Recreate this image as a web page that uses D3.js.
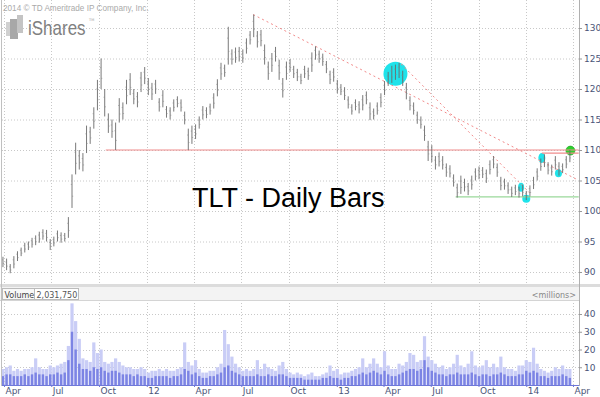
<!DOCTYPE html>
<html><head><meta charset="utf-8">
<script src="https://cdn.jsdelivr.net/npm/d3@7"></script>
<style>
html,body{margin:0;padding:0;background:#fff;}
svg{display:block;font-family:"DejaVu Sans",sans-serif;}
</style></head>
<body><svg id="c" width="600" height="397"></svg>
<script>
// ---- data (weekly, starting week of 2011-03-30) ----
const weekHi = [92.5,92.2,91.3,92.6,93.4,94.0,94.8,95.0,95.6,96.0,96.6,97.0,96.9,95.4,95.8,96.8,96.5,96.4,99.0,106.0,
111.2,110.0,109.5,114.0,113.8,117.0,121.5,125.0,120.0,116.0,115.0,114.5,118.5,117.8,121.5,122.6,120.0,119.5,122.8,123.6,
121.8,121.0,121.5,118.5,119.8,117.2,117.0,118.3,118.8,118.3,116.3,113.5,114.0,114.2,115.5,117.2,117.0,117.6,119.3,121.6,
124.3,124.0,130.2,126.5,126.8,126.9,126.5,128.3,129.5,132.2,129.5,129.7,127.3,124.5,125.9,126.9,124.8,121.8,124.5,124.9,
123.8,123.3,122.5,123.8,123.5,126.0,127.0,126.3,125.8,124.6,123.0,123.4,121.5,120.8,120.3,118.8,117.5,118.3,118.0,119.0,
119.6,117.8,116.8,117.8,119.3,121.3,122.8,123.8,124.0,124.3,123.0,121.0,118.8,117.8,116.3,115.5,114.0,111.5,110.8,109.0,
109.6,109.0,107.8,107.5,106.0,104.5,105.8,105.3,104.6,105.8,107.0,107.3,107.2,106.8,108.3,109.0,107.8,105.6,105.3,104.7,
104.0,104.3,104.0,104.3,103.3,104.2,105.6,107.0,108.6,109.3,108.0,107.6,109.0,108.0,107.8,109.0,110.0];
const weekLo = [90.8,90.3,89.8,90.6,91.8,92.6,93.2,93.6,94.0,94.4,94.8,95.3,95.0,93.6,94.2,95.0,94.8,95.0,95.6,100.5,
106.0,106.8,106.5,109.5,111.0,113.5,116.5,120.0,115.5,112.8,112.0,110.0,114.5,115.0,117.5,119.0,117.5,117.0,119.5,120.8,
119.0,118.2,119.2,116.3,117.0,115.3,115.0,116.3,117.0,116.3,114.2,110.0,111.0,111.8,113.5,115.0,115.2,115.8,116.8,118.8,
121.5,122.0,124.0,124.0,124.3,124.5,124.3,125.8,127.3,128.5,126.8,127.0,124.0,121.5,122.8,124.5,121.5,118.6,121.5,122.8,
121.8,121.3,120.8,121.8,121.5,122.8,124.8,124.3,123.8,122.6,120.8,121.2,119.3,119.0,118.2,116.8,115.8,116.5,116.0,116.5,
117.5,114.9,115.0,115.8,117.0,119.0,120.5,121.0,121.5,121.8,120.5,118.3,116.5,115.8,114.3,113.5,111.5,108.2,108.0,106.8,
107.3,106.8,105.6,105.5,104.0,102.2,102.8,103.2,102.6,103.5,105.0,105.2,105.4,104.6,106.0,107.0,105.6,103.4,103.5,102.8,
102.3,102.6,102.2,102.4,101.8,102.4,103.6,105.0,106.6,107.2,106.0,105.8,106.8,105.8,106.2,107.0,108.0];
const volMax = [9,10,11,8,9,8,9,9,10,15,10,9,9,11,10,11,12,13,22,46,
36,26,15,14,13,24,18,20,13,12,13,15,13,11,10,10,9,9,10,9,
7,8,8,9,8,9,8,8,9,10,24,13,11,14,9,7,7,8,8,10,
12,31,23,16,12,10,8,9,8,9,14,9,12,10,9,8,11,13,9,7,
6,7,6,5,6,7,5,5,6,7,11,8,9,6,7,7,8,9,10,15,
10,12,15,12,10,19,11,9,9,12,11,13,18,17,13,14,27.5,16,14,12,
10,11,9,10,12,17,11,10,12,19,11,10,11,14,10,12,10,16,10,9,
9,8,11,11,14,13,21,12,9,8,7,8,10,9,11,9,9];
const volTyp = [5,6,6,5,5,5,6,5,6,7,6,6,5,6,6,7,6,7,14,30,
20,12,9,9,8,10,9,10,8,7,8,8,7,6,6,6,5,6,5,5,
4,4,5,5,5,5,4,5,5,6,9,8,6,7,5,4,4,5,5,6,
7,10,11,8,7,6,5,5,5,5,6,5,5,6,5,5,6,6,5,4,
4,4,4,3,3,3,3,3,4,4,5,4,4,3,4,4,5,5,6,7,
6,7,8,7,6,8,6,5,5,6,7,8,9,9,8,9,14,10,8,7,
6,6,5,6,6,7,6,6,6,7,6,5,6,6,5,6,6,7,6,5,
5,5,6,6,8,7,8,7,5,5,4,5,5,5,6,5,4];
const priceTicks = [90,95,100,105,110,115,120,125,130];
const volTicks = [10,20,30,40];
const quarterDates = ["2011-04-01","2011-07-01","2011-10-01","2012-01-01","2012-04-01","2012-07-01","2012-10-01",
  "2013-01-01","2013-04-01","2013-07-01","2013-10-01","2014-01-01","2014-04-01"];
const quarterLabels = ["Apr","Jul","Oct","12","Apr","Jul","Oct","13","Apr","Jul","Oct","14","Apr"];
// annotations in data units
const resistance = {from:"2011-10-14", to:"2014-04-12", price:110.0};
const resistance2 = {from:"2014-01-31", to:"2014-04-12", price:109.5};
const support = {from:"2013-08-18", to:"2014-04-12", price:102.3};
const trendLines = [
  {d1:"2012-07-24", p1:132.2, d2:"2014-04-08", p2:105.2},
  {d1:"2013-05-05", p1:124.1, d2:"2014-01-07", p2:103.0}
];
const bigCircle = {date:"2013-04-24", price:122.5};
const dots = [
  {date:"2013-12-22", price:103.9, rx:3, ry:4.5},
  {date:"2014-01-01", price:102.0, rx:4, ry:4},
  {date:"2014-01-31", price:108.7, rx:3.5, ry:5},
  {date:"2014-03-04", price:106.2, rx:3.5, ry:4}
];
const lastDot = {date:"2014-03-27", price:109.9};

// ---- chart ----
const svg = d3.select("#c");
const P = {left:2, right:579, top:0, bottom:284};
const V = {top:300, bottom:385};
const parse = d3.utcParse("%Y-%m-%d");
const x = d3.scaleUtc().domain([parse("2011-04-01"), parse("2014-04-01")]).range([4,573]);
const y = d3.scaleLinear().domain([100,130]).range([211,28]);
const yv = d3.scaleLinear().domain([0,40]).range([V.bottom,314]);
const start = parse("2011-03-30");
const weekDate = i => d3.utcDay.offset(start, i*7);
const qd = quarterDates.map(parse);

svg.append("defs").append("clipPath").attr("id","pc").append("rect")
  .attr("x",P.left).attr("y",P.top).attr("width",P.right-P.left).attr("height",P.bottom-P.top);

// grid - price
const g = svg.append("g");
g.selectAll(".hg").data(priceTicks).join("line")
  .attr("x1",P.left).attr("x2",P.right).attr("y1",d=>y(d)+0.5).attr("y2",d=>y(d)+0.5)
  .attr("stroke","#c8c8c8").attr("stroke-dasharray","1,2");
g.selectAll(".vg").data(qd).join("line")
  .attr("x1",d=>Math.round(x(d))+0.5).attr("x2",d=>Math.round(x(d))+0.5).attr("y1",P.top).attr("y2",P.bottom)
  .attr("stroke","#c8c8c8").attr("stroke-dasharray","1,2");
// grid - volume
g.selectAll(".hvg").data(volTicks).join("line")
  .attr("x1",P.left).attr("x2",P.right).attr("y1",d=>Math.round(yv(d))+0.5).attr("y2",d=>Math.round(yv(d))+0.5)
  .attr("stroke","#c8c8c8").attr("stroke-dasharray","1,2");
g.selectAll(".vvg").data(qd).join("line")
  .attr("x1",d=>Math.round(x(d))+0.5).attr("x2",d=>Math.round(x(d))+0.5).attr("y1",V.top).attr("y2",V.bottom)
  .attr("stroke","#c8c8c8").attr("stroke-dasharray","1,2");

// copyright + logo
svg.append("text").attr("x",3).attr("y",11).attr("font-size",8.2).attr("fill","#aaa")
  .attr("font-family","Liberation Sans, Arial, sans-serif").text("2014 \u00A9 TD Ameritrade IP Company, Inc.");
const logo = svg.append("g");
logo.append("rect").attr("x",6).attr("y",22).attr("width",6).attr("height",14).attr("fill","#d0d0d0");
logo.append("rect").attr("x",10).attr("y",19).attr("width",8).attr("height",20).attr("fill","#a8a8a8");
logo.append("rect").attr("x",17).attr("y",15).attr("width",6).attr("height",18).attr("fill","#c4c4c4");
logo.append("text").attr("transform","translate(28,35) scale(1,1.18)").attr("font-size",17).attr("fill","#808080")
  .attr("font-family","Liberation Sans, Arial, sans-serif").text("iShares");
logo.append("text").attr("x",89).attr("y",21).attr("font-size",3.5).attr("fill","#999").text("TM");

// annotations under bars
const ann = svg.append("g").attr("clip-path","url(#pc)");
ann.append("circle").attr("cx",x(parse(bigCircle.date))).attr("cy",y(bigCircle.price)).attr("r",12).attr("fill","#1fe3ea");
ann.selectAll(".dot").data(dots).join("ellipse")
  .attr("cx",d=>x(parse(d.date))).attr("cy",d=>y(d.price)).attr("rx",d=>d.rx).attr("ry",d=>d.ry).attr("fill","#1fe3ea");
ann.append("circle").attr("cx",x(parse(lastDot.date))).attr("cy",y(lastDot.price)).attr("r",4.5)
  .attr("fill","#2ed12e").attr("stroke","#1a9a1a").attr("stroke-width",0.6);
// horizontal lines
[resistance, resistance2].forEach(r=>{
  ann.append("line").attr("x1",x(parse(r.from))).attr("x2",x(parse(r.to)))
    .attr("y1",y(r.price)).attr("y2",y(r.price)).attr("stroke","#f08c8c").attr("stroke-width",1.2);
});
ann.append("line").attr("x1",x(parse(support.from))).attr("x2",x(parse(support.to)))
  .attr("y1",y(support.price)).attr("y2",y(support.price)).attr("stroke","#9ad89a").attr("stroke-width",1.2);
ann.selectAll(".tl").data(trendLines).join("line")
  .attr("x1",d=>x(parse(d.d1))).attr("y1",d=>y(d.p1)).attr("x2",d=>x(parse(d.d2))).attr("y2",d=>y(d.p2))
  .attr("stroke","#f28a8a").attr("stroke-width",1).attr("stroke-dasharray","2,3");

// price bars
const bars = svg.append("g").attr("clip-path","url(#pc)");
weekHi.forEach((h,i)=>{
  const cx = x(weekDate(i));
  const lo = weekLo[i];
  bars.append("line").attr("x1",cx).attr("x2",cx).attr("y1",y(h)).attr("y2",y(lo))
    .attr("stroke","#6a6a6a").attr("stroke-width",0.9);
  bars.append("line").attr("x1",cx-1.2).attr("x2",cx).attr("y1",y(h-(h-lo)*0.3)).attr("y2",y(h-(h-lo)*0.3))
    .attr("stroke","#8a8a8a").attr("stroke-width",0.6);
  bars.append("line").attr("x1",cx).attr("x2",cx+1.2).attr("y1",y(lo+(h-lo)*0.35)).attr("y2",y(lo+(h-lo)*0.35))
    .attr("stroke","#8a8a8a").attr("stroke-width",0.6);
});

// title
svg.append("text").attr("x",192).attr("y",207).attr("font-size",27)
  .attr("font-family","Liberation Sans, Arial, sans-serif").attr("fill","#000").text("TLT - Daily Bars");

// panel separators
svg.append("rect").attr("x",0).attr("y",284).attr("width",600).attr("height",3).attr("fill","#dcdcdc");
svg.append("rect").attr("x",0).attr("y",287).attr("width",579).attr("height",13).attr("fill","#f3f3f3");
svg.append("line").attr("x1",0).attr("x2",579).attr("y1",300.5).attr("y2",300.5).attr("stroke","#d4d4d4");
svg.append("rect").attr("x",2.5).attr("y",288.5).attr("width",32).attr("height",11).attr("fill","#f8f8f8").attr("stroke","#bbb");
svg.append("rect").attr("x",34.5).attr("y",288.5).attr("width",44).attr("height",11).attr("fill","#fff").attr("stroke","#bbb");
svg.append("text").attr("x",4.5).attr("y",297.5).attr("font-size",8).attr("fill","#444").text("Volume");
svg.append("text").attr("x",36.5).attr("y",297.5).attr("font-size",8).attr("fill","#555").text("2,031,750");
svg.append("text").attr("x",576).attr("y",297.5).attr("font-size",8).attr("fill","#888").attr("text-anchor","end").text("<millions>");

// volume bars
const vb = svg.append("g");
const bw = 3.2;
volMax.forEach((v,i)=>{
  const cx = x(weekDate(i));
  vb.append("rect").attr("x",cx-bw/2).attr("width",bw).attr("y",yv(v)).attr("height",V.bottom-yv(v)).attr("fill","#c9cdf6");
});
volTyp.forEach((v,i)=>{
  const cx = x(weekDate(i));
  vb.append("rect").attr("x",cx-bw/2+0.4).attr("width",bw-0.8).attr("y",yv(v)).attr("height",V.bottom-yv(v)).attr("fill","#7c84e4");
});
svg.append("line").attr("x1",P.left).attr("x2",P.right).attr("y1",V.bottom+0.5).attr("y2",V.bottom+0.5).attr("stroke","#6f78d8");

// borders
svg.append("line").attr("x1",1.5).attr("x2",1.5).attr("y1",0).attr("y2",386).attr("stroke","#c0c0c0");
svg.append("line").attr("x1",P.right+0.5).attr("x2",P.right+0.5).attr("y1",0).attr("y2",386).attr("stroke","#b0b0b0");

// right axes
const axc = "#4a5578";
const ra = svg.append("g").attr("transform",`translate(${P.right},0)`)
  .call(d3.axisRight(y).tickValues(priceTicks).tickSize(3).tickPadding(2));
const rv = svg.append("g").attr("transform",`translate(${P.right},0)`)
  .call(d3.axisRight(yv).tickValues(volTicks).tickSize(3).tickPadding(2));
[ra,rv].forEach(a=>{
  a.select(".domain").remove();
  a.selectAll("line").attr("stroke","#999");
  a.selectAll("text").attr("font-size",9).attr("fill",axc).attr("font-family","DejaVu Sans, sans-serif");
});

// bottom axis
const ba = svg.append("g").attr("transform",`translate(0,${V.bottom})`)
  .call(d3.axisBottom(x).tickValues(qd).tickSize(2).tickFormat((d,i)=>quarterLabels[i]));
ba.select(".domain").remove();
ba.selectAll("line").attr("stroke","#6f78d8");
ba.selectAll("text").attr("font-size",9).attr("fill",axc).attr("text-anchor","start")
  .attr("dx",1).attr("y",3).attr("font-family","DejaVu Sans, sans-serif");
</script></body></html>
